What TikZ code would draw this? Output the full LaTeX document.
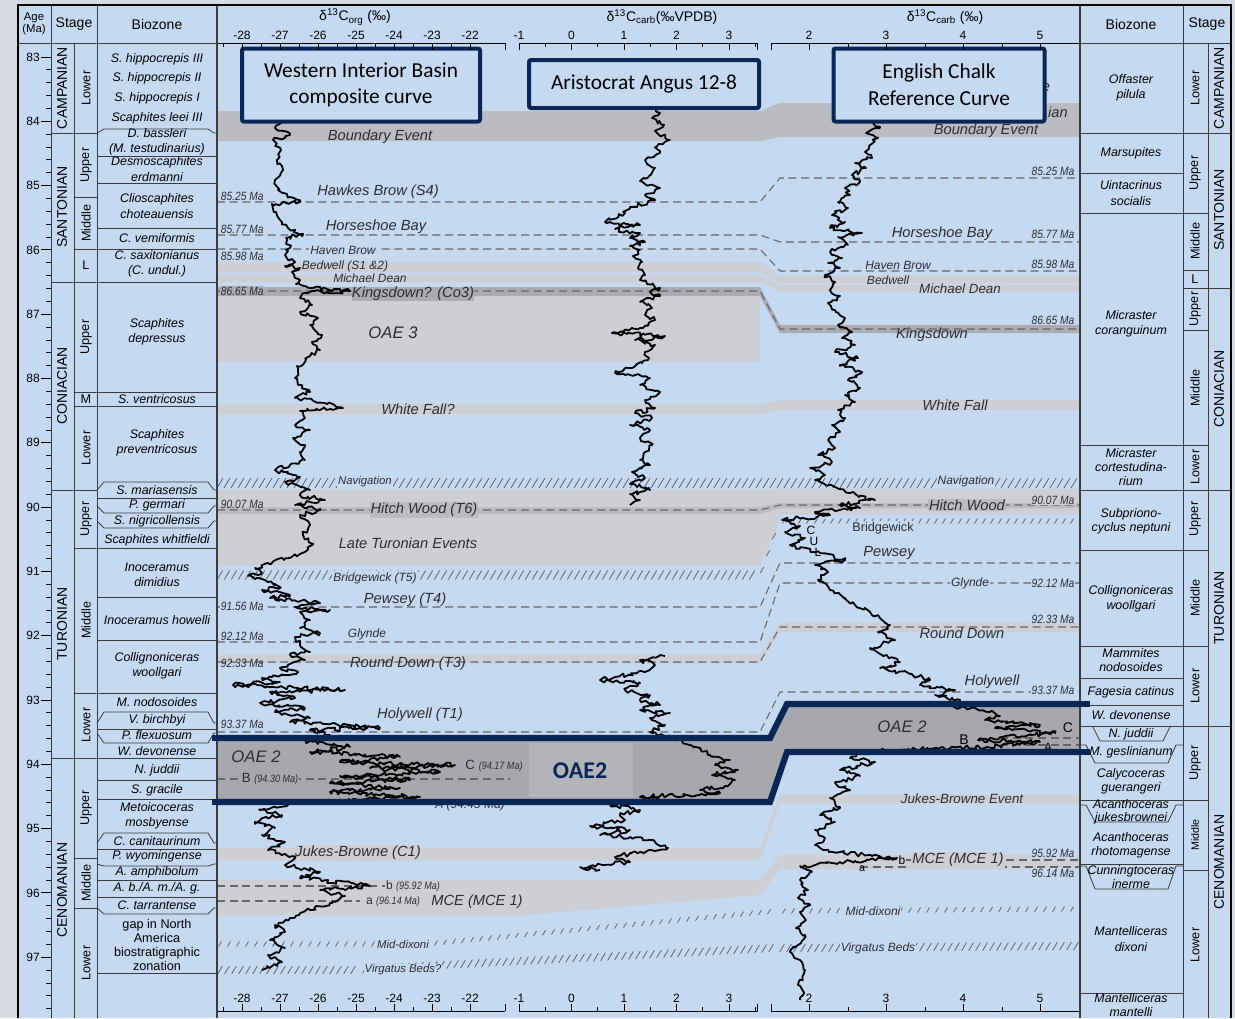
\documentclass[tikz,border=0pt]{standalone}
\usepackage{fontspec}
\setmainfont{Liberation Sans}
\newfontfamily\boxfont{Carlito}
\usetikzlibrary{decorations.pathmorphing}
\definecolor{outerbg}{RGB}{214,219,226}
\definecolor{panel}{RGB}{197,217,241}
\definecolor{bandl}{RGB}{205,207,212}
\definecolor{bandm}{RGB}{186,188,193}
\definecolor{bandd}{RGB}{170,172,178}
\definecolor{oaefill}{RGB}{166,168,173}
\definecolor{oaelight}{RGB}{178,180,186}
\definecolor{navy}{RGB}{10,38,86}
\definecolor{dashc}{RGB}{100,100,105}
\definecolor{evtext}{RGB}{45,45,48}
\definecolor{gridc}{RGB}{60,60,60}
\tikzset{
  bz/.style={font=\fontsize{9.3}{11.5}\selectfont\itshape, align=center, inner sep=0pt},
  stg/.style={font=\fontsize{10.5}{11}\selectfont, rotate=90, inner sep=0pt},
  sub/.style={font=\fontsize{9.5}{10}\selectfont, rotate=90, inner sep=0pt},
  subh/.style={font=\fontsize{9.5}{10}\selectfont, inner sep=0pt},
  ev/.style={font=\fontsize{11}{12}\selectfont\itshape, text=evtext, inner sep=0.8pt},
  evs/.style={font=\fontsize{9}{10}\selectfont\itshape, text=evtext, inner sep=0.8pt},
  evt/.style={font=\fontsize{8.5}{9}\selectfont\itshape, text=evtext, inner sep=0.8pt},
  ma/.style={font=\fontsize{9}{9}\selectfont\itshape, text=evtext, inner sep=0.5pt},
  tk/.style={font=\fontsize{9}{9}\selectfont, inner sep=0pt},
  gl/.style={draw=gridc, line width=0.6pt},
  fr/.style={draw=black, line width=2.2pt},
  dl/.style={draw=dashc, line width=0.8pt, dash pattern=on 6pt off 3.5pt},
  hs/.style={draw=dashc, line width=0.6pt},
  cv/.style={draw=black, line width=1.35pt, line join=round, decorate,
     decoration={random steps, segment length=2.2pt, amplitude=1.7pt}},
  tbox/.style={draw=navy, line width=3pt, fill=panel, rounded corners=1.5pt},
  ttext/.style={font=\boxfont\fontsize{16}{20}\selectfont, align=center, text=black},
  oaeline/.style={draw=navy, line width=4.6pt, line join=miter}
}
\newcommand\myhatch[6]{%
  \pgfmathtruncatemacro\hN{((#3)-(#1))/(#5)}%
  \foreach \hi in {0,...,\hN}{%
    \pgfmathsetmacro\hx{(#1)+\hi*(#5)}%
    \pgfmathsetmacro\hy{(#2)+(\hx-(#1))*((#4)-(#2))/((#3)-(#1))}%
    \draw[hs] (\hx-0.3*#6,\hy+0.5*#6) -- (\hx+0.3*#6,\hy-0.5*#6);%
  }}
\newcommand\lbr[2]{\draw[gl] (97,#1)--(104,#2)--(208,#2)--(214,#1)--(217,#1);}
\newcommand\rbr[2]{\draw[gl] (1080,#1)--(1086,#1)--(1095,#2)--(1168,#2)--(1176,#1)--(1183,#1);}
\newcommand\mal[1]{\scalebox{0.85}[1]{#1}}
\begin{document}
\begin{tikzpicture}[x=0.75pt,y=-0.75pt]
\pgfmathsetseed{11}
\useasboundingbox (0,0) rectangle (1235,1018);
\fill[outerbg] (0,0) rectangle (1235,1018);
\fill[panel] (18,5) rectangle (1231,1018);

% ---------- bands ----------
\fill[bandm] (217,111)--(760,111)--(780,103)--(1080,103)--(1080,137)--(780,137)--(760,141)--(217,141)--cycle;
\fill[bandl] (217,262)--(760,262)--(780,276)--(1080,276)--(1080,283)--(780,283)--(760,272)--(217,272)--cycle;
\fill[bandl] (217,275)--(760,275)--(780,285)--(1080,285)--(1080,291)--(780,291)--(760,282)--(217,282)--cycle;
\fill[bandl] (217,296)--(760,296)--(760,362)--(217,362)--cycle;
\fill[bandd] (217,287)--(760,287)--(780,325)--(1080,325)--(1080,333)--(780,333)--(760,296)--(217,296)--cycle;
\fill[bandl] (217,404)--(760,404)--(780,400)--(1080,400)--(1080,410)--(780,410)--(760,414)--(217,414)--cycle;
\fill[bandl] (217,490)--(760,490)--(780,489)--(1080,489)--(1080,514)--(780,514)--(760,515)--(217,515)--cycle;
\fill[bandm] (217,507)--(760,507)--(780,503)--(1080,503)--(1080,508)--(780,508)--(760,514)--(217,514)--cycle;
\fill[bandl] (217,515)--(760,515)--(780,514)--(780,522)--(760,565)--(217,565)--cycle;
\fill[bandl] (217,655)--(760,655)--(780,623)--(1080,623)--(1080,632)--(780,632)--(760,663)--(217,663)--cycle;
\fill[bandl] (217,848)--(760,848)--(780,795)--(1080,795)--(1080,803)--(780,803)--(760,860)--(217,860)--cycle;
\fill[bandl] (217,880)--(760,880)--(780,855)--(1080,855)--(1080,869)--(780,869)--(760,895)--(526,915)--(217,915)--cycle;
\fill[oaefill] (212,738)--(770,738)--(787,704)--(1090,704)--(1090,752)--(787,752)--(770,802)--(212,802)--cycle;
\fill[oaelight] (529,743) rectangle (633,797);

% ---------- hatched horizons ----------
\myhatch{220}{483}{1078}{483}{7}{10}
\myhatch{220}{575}{758}{575}{7}{9}
\myhatch{762}{570}{778}{525}{6}{6}
\myhatch{784}{521}{1078}{521}{8}{5}
\myhatch{220}{944}{430}{944}{9}{5}
\myhatch{436}{943}{775}{911}{9}{5}
\myhatch{784}{911}{1078}{909}{9}{5}
\myhatch{220}{970}{358}{970}{7}{8}
\myhatch{365}{969}{775}{948}{7}{8}
\myhatch{782}{948}{1078}{946}{7}{8}

% ---------- dashed horizons ----------
\draw[dl] (217,202)--(760,202)--(780,178)--(1080,178);
\draw[dl] (217,235)--(760,235)--(780,242)--(1080,242);
\draw[dl] (217,249)--(760,249)--(780,271)--(1080,271);
\draw[dl] (217,291)--(760,291)--(780,329)--(1080,329);
\draw[dl] (217,510)--(760,510)--(780,505)--(1080,505);
\draw[dl] (217,607)--(760,607)--(780,563)--(1080,563);
\draw[dl] (217,642)--(760,642)--(780,583)--(1080,583);
\draw[dl] (217,662)--(760,662)--(780,627)--(1080,627);
\draw[dl] (217,732)--(760,732)--(780,692)--(1080,692);
\draw[dl] (217,779)--(510,779);
\draw[dl] (217,886)--(385,886);
\draw[dl] (217,901)--(360,901);
\draw[dl] (905,860)--(1080,860);
\draw[dl] (860,867)--(1080,867);
\draw[dl] (1000,738)--(1080,738);
\draw[dl] (1000,745)--(1080,745);

% ---------- left event labels ----------
\node[ev] (lsc) at (380,117) {Santonian-Campanian};
\node[ev] (lbe) at (380,137) {Boundary Event};
\node[ma,anchor=west] (l1) at (220,196) {\mal{85.25 Ma}};
\node[ev] (lhb) at (378,192) {Hawkes Brow (S4)};
\node[ma,anchor=west] (l2) at (220,229) {\mal{85.77 Ma}};
\node[ev] (lhs) at (376,227) {Horseshoe Bay};
\node[evs,fill=panel] (lhv) at (343,250) {Haven Brow};
\node[ma,anchor=west] (l3) at (220,256) {\mal{85.98 Ma}};
\node[evs] (lbw) at (345,266) {Bedwell (S1 \&2)};
\node[evs,inner sep=0pt] (lmd) at (370,278.5) {Michael Dean};
\node[ma,anchor=west,fill=bandd] (l4) at (220,291) {\mal{86.65 Ma}};
\node[ev,fill=bandd,inner sep=0.2pt] (lks) at (413,294) {Kingsdown? (Co3)};
\node[ev,font=\fontsize{12.5}{13}\selectfont\itshape] (loae3) at (393,333) {OAE 3};
\node[ev] (lwf) at (418,409) {White Fall?};
\node[evt,fill=panel] (lnav) at (365,482) {Navigation};
\node[ma,anchor=west] (l5) at (220,504) {\mal{90.07 Ma}};
\node[ev,fill=bandm] (lhw) at (424,510) {Hitch Wood (T6)};
\node[ev] (llt) at (408,543) {Late Turonian Events};
\node[evs,fill=panel] (lbg) at (375,578) {Bridgewick (T5)};
\node[ev] (lpw) at (405,600) {Pewsey (T4)};
\node[ma,anchor=west,fill=panel] (l6) at (220,606) {\mal{91.56 Ma}};
\node[evs] (lgl) at (367,634) {Glynde};
\node[ma,anchor=west] (l7) at (220,636) {\mal{92.12 Ma}};
\node[ev] (lrd) at (408,664) {Round Down (T3)};
\node[ma,anchor=west] (l8) at (220,663) {\mal{92.33 Ma}};
\node[ev] (lhy) at (420,715) {Holywell (T1)};
\node[ma,anchor=west,fill=panel] (l9) at (220,724) {\mal{93.37 Ma}};
\node[ma] (lA) at (470,805) {A (94.45 Ma)};
\node[ev,font=\fontsize{12.5}{13}\selectfont\itshape] (loae2) at (256,757) {OAE 2};
\node[inner sep=0.5pt,fill=oaefill,text=evtext] (lB) at (270,779) {\fontsize{10}{10}\selectfont B \fontsize{8}{8}\selectfont\itshape\mal{(94.30 Ma)}};
\node[ev,fill=bandl] (ljb) at (358,853) {Jukes-Browne (C1)};
\node[inner sep=0.5pt,fill=bandl,text=evtext] (lb) at (413,886) {\fontsize{9}{9}\selectfont b \fontsize{8}{8}\selectfont\itshape\mal{(95.92 Ma)}};
\node[inner sep=0.5pt,fill=bandl,text=evtext] (la) at (393,902) {\fontsize{9}{9}\selectfont a \fontsize{8}{8}\selectfont\itshape\mal{(96.14 Ma)}};
\node[ev] (lmce) at (477,902) {MCE (MCE 1)};
\node[evt,fill=panel] (lmdx) at (403,944) {Mid-dixoni};
\node[evt,fill=panel] (lvb) at (403,970) {Virgatus Beds?};

% ---------- right event labels ----------
\node[ev] (re) at (1046,88) {e};
\node[ev] (rian) at (1058,112) {ian};
\node[ev] (rbe) at (986,131) {Boundary Event};
\node[ma,fill=panel] (r1) at (1053,171) {\mal{85.25 Ma}};
\node[ev] (rhs) at (942,234) {Horseshoe Bay};
\node[ma] (r2) at (1053,234) {\mal{85.77 Ma}};
\node[evs] (rhv) at (898,265) {Haven Brow};
\node[ma] (r3) at (1053,264) {\mal{85.98 Ma}};
\node[evs] (rbw) at (888,280) {Bedwell};
\node[evs,font=\fontsize{10}{10}\selectfont\itshape] (rmd) at (960,289) {Michael Dean};
\node[ma] (r4) at (1053,320) {\mal{86.65 Ma}};
\node[ev] (rks) at (932,335) {Kingsdown};
\node[ev] (rwf) at (955,405) {White Fall};
\node[evs,fill=panel] (rnav) at (966,481) {Navigation};
\node[ev,fill=bandm] (rhw) at (967,505) {Hitch Wood};
\node[ma,fill=bandl] (r5) at (1053,500) {\mal{90.07 Ma}};
\node[evs,fill=panel,font=\fontsize{9.5}{10}\selectfont] (rbg) at (883,528) {Bridgewick};
\node[ev] (rpw) at (889,553) {Pewsey};
\node[evs,fill=panel] (rgl) at (970,583) {Glynde};
\node[ma,fill=panel] (r6) at (1053,583) {\mal{92.12 Ma}};
\node[ma] (r7) at (1053,619) {\mal{92.33 Ma}};
\node[ev] (rrd) at (962,633) {Round Down};
\node[ev] (rhy) at (992,682) {Holywell};
\node[ma,fill=panel] (r8) at (1053,690) {\mal{93.37 Ma}};
\node[ev,font=\fontsize{12.5}{13}\selectfont\itshape] (roae2) at (902,727) {OAE 2};
\node[tk,font=\fontsize{9}{9}\selectfont] (rA) at (1048,747) {A};
\node[evs,font=\fontsize{10}{10}\selectfont\itshape] (rjb) at (962,799) {Jukes-Browne Event};
\node[ev,fill=bandl] (rmce) at (958,860) {MCE (MCE 1)};
\node[tk,font=\fontsize{8}{8}\selectfont] (ra) at (862,869) {a};
\node[ma,fill=panel] (r9) at (1053,853) {\mal{95.92 Ma}};
\node[ma,fill=panel] (r10) at (1053,873) {\mal{96.14 Ma}};
\node[evs,fill=panel] (rmdx) at (873,911) {Mid-dixoni};
\node[evs,fill=panel] (rvb) at (878,948) {Virgatus Beds};

% ---------- curves ----------
\draw[cv] plot coordinates {(283,121)(275,128)(290,135)(273,140)(281,150)(277,160)(283,170)(275,180)(278,190)(290,197)(300,202)(272,204)(276,212)(282,222)(288,228)(303,234)(286,238)(290,248)(285,255)(295,262)(285,266)(300,268)(292,272)(300,280)(296,284)(310,288)(350,291)(305,293)(300,298)(312,305)(300,312)(318,318)(310,325)(322,335)(312,342)(320,350)(310,356)(305,362)(297,366)(298,372)(295,378)(300,385)(310,392)(295,398)(325,403)(343,408)(300,411)(305,418)(295,425)(310,430)(293,438)(305,445)(300,452)(305,460)(290,465)(275,470)(300,477)(285,482)(310,490)(300,495)(325,500)(295,505)(320,510)(300,515)(310,525)(303,535)(312,545)(305,552)(290,558)(268,563)(255,568)(262,573)(248,576)(268,582)(280,588)(262,590)(290,596)(270,598)(320,603)(295,607)(330,610)(300,612)(310,620)(300,628)(320,633)(295,637)(300,645)(310,652)(290,655)(305,660)(280,668)(298,672)(262,678)(280,682)(233,685)(345,690)(270,692)(295,698)(260,703)(305,708)(275,712)(310,718)(290,722)(380,728)(310,730)(330,735)(300,740)(350,747)(310,752)(400,757)(340,762)(455,765)(370,768)(440,772)(340,776)(410,780)(330,783)(400,788)(330,792)(420,797)(290,803)(260,810)(282,815)(255,822)(275,828)(262,835)(285,842)(268,850)(295,858)(285,865)(320,872)(300,878)(370,886)(320,890)(345,896)(330,903)(310,910)(290,918)(275,925)(285,932)(270,940)(285,948)(268,955)(282,962)(262,970)};
\draw[cv] plot coordinates {(652,108)(660,113)(652,118)(664,125)(655,131)(670,140)(655,147)(660,153)(645,160)(655,168)(650,175)(640,181)(660,188)(645,195)(655,200)(630,207)(625,213)(605,222)(640,225)(615,229)(640,233)(630,238)(645,242)(630,246)(640,250)(633,256)(642,262)(638,268)(645,275)(640,280)(660,288)(650,292)(660,296)(640,302)(652,308)(645,315)(655,320)(640,328)(612,333)(665,336)(635,340)(655,345)(645,352)(648,360)(628,368)(615,373)(650,378)(640,385)(660,392)(645,400)(655,408)(635,413)(652,418)(630,425)(650,430)(640,438)(652,445)(645,452)(640,460)(650,465)(632,472)(645,478)(630,484)(650,490)(630,494)(640,500)(630,505)};
\draw[cv] plot coordinates {(665,656)(640,660)(655,665)(645,672)(615,677)(600,680)(640,683)(625,690)(650,695)(640,700)(660,705)(640,710)(670,713)(650,718)(665,725)(650,732)(680,740)(700,748)(710,755)(730,760)(715,765)(738,770)(712,775)(735,780)(725,786)(700,790)(720,793)(640,797)(660,800)(610,805)(640,810)(620,815)(625,820)(590,826)(630,830)(600,835)(650,840)(668,848)(640,852)(615,857)(630,862)(580,867)(600,870)};
\draw[cv] plot coordinates {(872,121)(880,127)(866,133)(878,138)(870,145)(865,152)(872,158)(855,163)(866,168)(852,175)(860,182)(845,188)(850,195)(838,202)(848,208)(832,215)(845,222)(830,228)(862,233)(838,237)(848,245)(830,252)(842,258)(828,263)(840,268)(825,275)(835,282)(830,290)(840,296)(828,303)(835,310)(845,318)(838,325)(852,332)(842,338)(855,345)(835,352)(858,358)(840,365)(862,372)(848,380)(860,388)(845,395)(855,402)(838,410)(845,418)(832,425)(840,432)(828,440)(835,448)(818,455)(832,462)(810,468)(825,475)(815,480)(835,487)(850,493)(875,500)(840,505)(860,508)(815,512)(830,515)(782,520)(800,526)(785,532)(805,538)(790,545)(820,553)(845,560)(815,565)(828,572)(818,580)(830,590)(845,598)(855,605)(870,612)(880,618)(890,625)(878,632)(895,640)(870,648)(882,655)(900,662)(880,668)(910,674)(930,680)(920,685)(955,690)(935,695)(960,700)(950,706)(990,712)(1000,716)(985,720)(1040,725)(995,728)(1055,733)(1000,737)(978,740)(1040,742)(1000,746)(900,750)(860,752)(850,758)(875,762)(840,770)(860,776)(835,783)(850,790)(830,798)(840,808)(820,815)(835,822)(815,830)(825,838)(815,845)(830,852)(897,858)(840,862)(800,866)(812,872)(800,880)(808,890)(798,898)(810,905)(800,912)(806,920)(796,928)(805,935)(798,945)(790,952)(800,960)(805,970)(798,985)(803,995)(800,1000)};

% labels that sit over the curves
\node[inner sep=0.5pt,text=evtext] (lC) at (494,766) {\fontsize{10}{10}\selectfont C \fontsize{8}{8}\selectfont\itshape\mal{(94.17 Ma)}};
\node[tk] (rc) at (811,530) {C};
\node[tk] (ru) at (814,541) {U};
\node[tk] (rl) at (818,552) {L};
\node[tk,font=\fontsize{10.5}{11}\selectfont] (rB) at (964,740) {B};
\node[tk,font=\fontsize{10.5}{11}\selectfont] (rC) at (1068,728) {C};
\node[tk,fill=bandl,inner sep=0.8pt] (rb) at (902,860) {b};

% ---------- OAE2 outline ----------
\draw[oaeline] (212,738)--(770,738)--(787,704)--(1090,704);
\draw[oaeline] (212,802)--(770,802)--(787,752)--(1090,752);
\node[font=\boxfont\bfseries\fontsize{18}{20}\selectfont, text=navy] (oae2big) at (580,771) {OAE2};

% ---------- title boxes ----------
\node[tbox, minimum width=238*0.75pt, minimum height=73*0.75pt] (bwib) at (361,85) {};
\node[ttext] at (bwib) {Western Interior Basin\\composite curve};
\node[tbox, minimum width=230*0.75pt, minimum height=48*0.75pt] (bang) at (644,84) {};
\node[ttext] at (bang) {Aristocrat Angus 12-8};
\node[tbox, minimum width=211*0.75pt, minimum height=73*0.75pt] (beng) at (939,85) {};
\node[ttext] at (beng) {English Chalk\\Reference Curve};

% ---------- axes ----------
\node[tk,font=\fontsize{10.5}{11}\selectfont] (ax1) at (355,17) {δ\textsuperscript{13}C\textsubscript{org} (‰)};
\node[tk,font=\fontsize{10.5}{11}\selectfont] (ax2) at (662,17) {δ\textsuperscript{13}C\textsubscript{carb}(‰VPDB)};
\node[tk,font=\fontsize{10.5}{11}\selectfont] (ax3) at (945,17) {δ\textsuperscript{13}C\textsubscript{carb} (‰)};
\foreach \yy/\dir/\ly in {43/1/35, 1011/-1/998}{
  \draw[black,line width=0.7pt] (218,\yy)--(505,\yy);
  \draw[black,line width=0.7pt] (505,\yy)--(505,\yy+7*\dir);
  \foreach \v [count=\k from 0] in {-28,-27,-26,-25,-24,-23,-22}{
    \draw[black,line width=0.7pt] (242+38*\k,\yy)--(242+38*\k,\yy+7*\dir);
    \node[tk] at (242+38*\k,\ly) {\v};
  }
  \foreach \k in {0,...,6}{\draw[black,line width=0.6pt] (223+38*\k,\yy)--(223+38*\k,\yy+4*\dir);}
  \draw[black,line width=0.7pt] (519,\yy+7*\dir)--(519,\yy)--(757,\yy)--(757,\yy+7*\dir);
  \foreach \v [count=\k from 0] in {-1,0,1,2,3}{
    \draw[black,line width=0.7pt] (519+52.5*\k,\yy)--(519+52.5*\k,\yy+7*\dir);
    \node[tk] at (519+52.5*\k,\ly) {\v};
  }
  \foreach \k in {0,...,4}{\draw[black,line width=0.6pt] (545+52.5*\k,\yy)--(545+52.5*\k,\yy+4*\dir);}
  \draw[black,line width=0.7pt] (771,\yy+7*\dir)--(771,\yy)--(1080,\yy);
  \foreach \v [count=\k from 0] in {2,3,4,5}{
    \draw[black,line width=0.7pt] (809+77*\k,\yy)--(809+77*\k,\yy+7*\dir);
    \node[tk] at (809+77*\k,\ly) {\v};
  }
  \foreach \k in {0,...,3}{\draw[black,line width=0.6pt] (848+77*\k,\yy)--(848+77*\k,\yy+4*\dir);}
}

% ---------- left table ----------
\fill[panel] (18,5) rectangle (217,1018);
\draw[gl] (18,43)--(217,43);
\draw[gl] (51,5)--(51,1018);
\draw[gl] (74,43)--(74,1018);
\draw[gl] (97,5)--(97,1018);
\draw[gridc,line width=0.9pt] (217,5)--(217,1018);
\node[tk,align=center,font=\fontsize{8.5}{9}\selectfont] (hage) at (34,24) {Age\\(Ma)};
\node[tk,font=\fontsize{10.5}{11}\selectfont] (hst) at (74,24) {Stage};
\node[tk,font=\fontsize{10.5}{11}\selectfont] (hbz) at (157,24) {Biozone};
\foreach \i in {0,...,74}{
  \pgfmathsetmacro\ty{57+\i*12.86}
  \pgfmathtruncatemacro\tm{mod(\i,5)}
  \ifnum\tm=0 \draw[black,line width=0.7pt] (41,\ty)--(51,\ty);
  \else \draw[black,line width=0.6pt] (46,\ty)--(51,\ty); \fi
}
\foreach \a [count=\k from 0] in {83,...,97}{\node[tk,anchor=east] at (40,57+64.3*\k) {\a};}
\foreach \yy in {133,282,490,758}{\draw[gl] (51,\yy)--(97,\yy);}
\foreach \yy in {197,249,392,406,548,693,858,908}{\draw[gl] (74,\yy)--(97,\yy);}
\lbr{133}{129}
\foreach \yy in {156,183,228,249,282,392,406,498,548,597,640,693,729,758,780,799,849,880,897,973}{\draw[gl] (97,\yy)--(217,\yy);}
\lbr{490}{482}
\lbr{506}{513}
\lbr{521}{528}
\lbr{723}{712}
\lbr{733}{743}
\lbr{843}{833}
\lbr{864}{866}
\lbr{908}{914}
\node[stg] at (62,88) {CAMPANIAN};
\node[stg] at (62,207) {SANTONIAN};
\node[stg] at (62,386) {CONIACIAN};
\node[stg] at (62,624) {TURONIAN};
\node[stg] at (62,890) {CENOMANIAN};
\node[sub] at (86,88) {Lower};
\node[sub] at (86,165) {Upper};
\node[sub] at (86,223) {Middle};
\node[subh] at (86,265) {L};
\node[sub] at (86,337) {Upper};
\node[subh] at (86,399) {M};
\node[sub] at (86,448) {Lower};
\node[sub] at (86,519) {Upper};
\node[sub] at (86,620) {Middle};
\node[sub] at (86,725) {Lower};
\node[sub] at (86,808) {Upper};
\node[sub] at (86,883) {Middle};
\node[sub] at (86,963) {Lower};
\node[bz] at (157,59) {S. hippocrepis III};
\node[bz] at (157,78) {S. hippocrepis II};
\node[bz] at (157,98) {S. hippocrepis I};
\node[bz] at (157,118) {Scaphites leei III};
\node[bz] at (157,142) {D. bassleri\\(M. testudinarius)};
\node[bz] at (157,169) {Desmoscaphites\\erdmanni};
\node[bz] at (157,206) {Clioscaphites\\choteauensis};
\node[bz] at (157,238) {C. vemiformis};
\node[bz] at (157,264) {C. saxitonianus\\(C. undul.)};
\node[bz] at (157,332) {Scaphites\\depressus};
\node[bz] at (157,399) {S. ventricosus};
\node[bz] at (157,443) {Scaphites\\preventricosus};
\node[bz] at (157,490) {S. mariasensis};
\node[bz] at (157,505) {P. germari};
\node[bz] at (157,521) {S. nigricollensis};
\node[bz] at (157,540) {Scaphites whitfieldi};
\node[bz] at (157,575) {Inoceramus\\dimidius};
\node[bz] at (157,620) {Inoceramus howelli};
\node[bz] at (157,666) {Collignoniceras\\woollgari};
\node[bz] at (157,702) {M. nodosoides};
\node[bz] at (157,720) {V. birchbyi};
\node[bz] at (157,735) {P. flexuosum};
\node[bz] at (157,751) {W. devonense};
\node[bz] at (157,770) {N. juddii};
\node[bz] at (157,790) {S. gracile};
\node[bz] at (157,816) {Metoicoceras\\mosbyense};
\node[bz] at (157,841) {C. canitaurinum};
\node[bz] at (157,856) {P. wyomingense};
\node[bz] at (157,872) {A. amphibolum};
\node[bz] at (157,888) {A. b./A. m./A. g.};
\node[bz] at (157,905) {C. tarrantense};
\node[bz,font=\fontsize{9.5}{10.3}\selectfont] at (157,945) {gap in North\\America\\biostratigraphic\\zonation};

% ---------- right table ----------
\fill[panel] (1080,5) rectangle (1231,1018);
\draw[gl] (1080,43)--(1231,43);
\draw[gridc,line width=0.9pt] (1080,5)--(1080,1018);
\draw[gl] (1183,5)--(1183,1018);
\draw[gl] (1208,43)--(1208,1018);
\node[tk,font=\fontsize{10.5}{11}\selectfont] (hbz2) at (1131,24) {Biozone};
\node[tk,font=\fontsize{10.5}{11}\selectfont] (hst2) at (1207,24) {Stage};
\foreach \yy in {133,288,490,726}{\draw[gl] (1183,\yy)--(1231,\yy);}
\foreach \yy in {213,270,288,330,445,550,646,800,870}{\draw[gl] (1183,\yy)--(1208,\yy);}
\foreach \yy in {133,173,213,445,490,550,646,678,705,726,800,864,993}{\draw[gl] (1080,\yy)--(1183,\yy);}
\draw[gl] (1093,727)--(1100,741)--(1163,741)--(1170,727);
\rbr{745}{763}
\rbr{805}{822}
\rbr{866}{889}
\node[stg] at (1219,88) {CAMPANIAN};
\node[stg] at (1219,210) {SANTONIAN};
\node[stg] at (1219,389) {CONIACIAN};
\node[stg] at (1219,608) {TURONIAN};
\node[stg] at (1219,862) {CENOMANIAN};
\node[sub] at (1195,88) {Lower};
\node[sub] at (1195,173) {Upper};
\node[sub] at (1195,241) {Middle};
\node[subh] at (1195,279) {L};
\node[sub] at (1195,309) {Upper};
\node[sub] at (1195,388) {Middle};
\node[sub] at (1195,467) {Lower};
\node[sub] at (1195,519) {Upper};
\node[sub] at (1195,598) {Middle};
\node[sub] at (1195,686) {Lower};
\node[sub] at (1195,763) {Upper};
\node[sub,font=\fontsize{8}{8}\selectfont] at (1195,835) {Middle};
\node[sub] at (1195,945) {Lower};
\node[bz] at (1131,88) {Offaster\\pilula};
\node[bz] at (1131,153) {Marsupites};
\node[bz] at (1131,193) {Uintacrinus\\socialis};
\node[bz] at (1131,324) {Micraster\\coranguinum};
\node[bz,font=\fontsize{9.3}{10.5}\selectfont\itshape] at (1131,467) {Micraster\\cortestudina-\\rium};
\node[bz,font=\fontsize{9.3}{10.5}\selectfont\itshape] at (1131,521) {Subpriono-\\cyclus neptuni};
\node[bz] at (1131,599) {Collignoniceras\\woollgari};
\node[bz,font=\fontsize{9.3}{10.5}\selectfont\itshape] at (1131,660) {Mammites\\nodosoides};
\node[bz] at (1131,692) {Fagesia catinus};
\node[bz] at (1131,715) {W. devonense};
\node[bz] at (1131,734) {N. juddii};
\node[bz] at (1131,752) {M. geslinianum};
\node[bz,font=\fontsize{9.3}{10.5}\selectfont\itshape] at (1131,781) {Calycoceras\\guerangeri};
\node[bz,font=\fontsize{9.3}{10}\selectfont\itshape] at (1131,812) {Acanthoceras\\jukesbrownei};
\node[bz,font=\fontsize{9.3}{10.5}\selectfont\itshape] at (1131,845) {Acanthoceras\\rhotomagense};
\node[bz,font=\fontsize{9.3}{10.5}\selectfont\itshape] at (1131,877) {Cunningtoceras\\inerme};
\node[bz] at (1131,939) {Mantelliceras\\dixoni};
\node[bz,font=\fontsize{9.3}{10.5}\selectfont\itshape] at (1131,1005) {Mantelliceras\\mantelli};

% OAE2 line ends over tables
\draw[oaeline] (212,738)--(222,738);
\draw[oaeline] (212,802)--(222,802);
\draw[oaeline] (1075,704)--(1090,704);
\draw[oaeline] (1075,752)--(1090,752);

% ---------- frame ----------
\draw[fr] (18,1018)--(18,5)--(1231,5)--(1231,1018);
\end{tikzpicture}
\end{document}
